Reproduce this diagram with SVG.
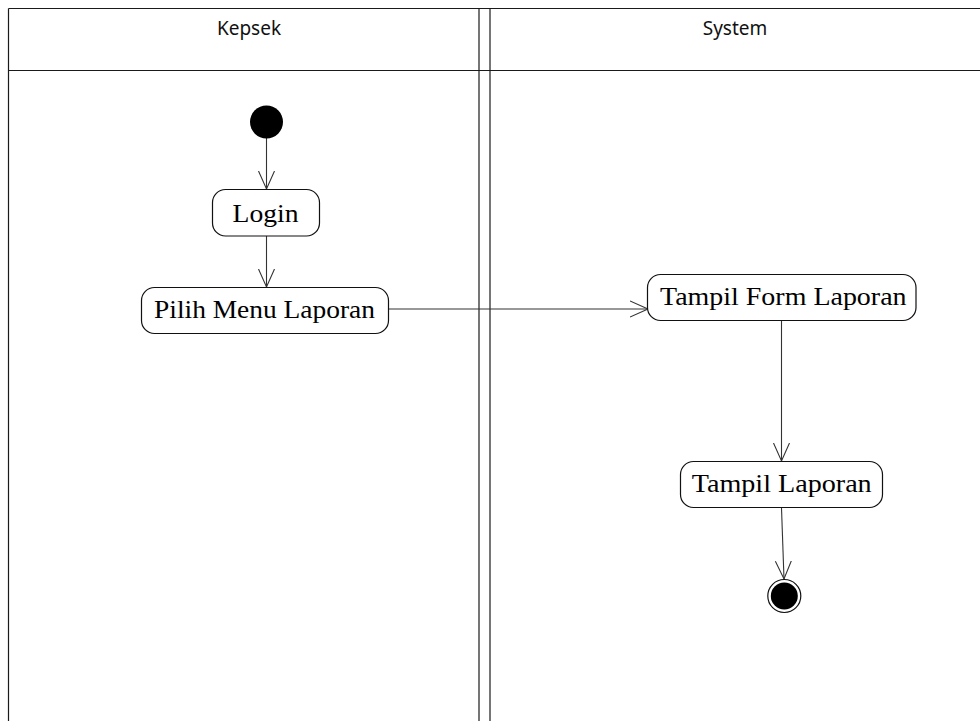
<svg xmlns="http://www.w3.org/2000/svg" width="980" height="721" viewBox="0 0 980 721">
  <style>
    .lane { fill: none; stroke: #1a1a1a; stroke-width: 1.2; }
    .head { font-family: "Noto Sans", "Open Sans", sans-serif; font-size: 19px; fill: #111; text-anchor: middle; }
    .act rect { fill: #fff; stroke: #111; stroke-width: 1.2; }
    .act text { font-family: "Liberation Serif", "Times New Roman", serif; font-size: 26px; fill: #000; text-anchor: middle; }
    .flow line { stroke: #333; stroke-width: 1.1; fill: none; marker-end: url(#open); }
  </style>
  <defs>
    <marker id="open" viewBox="0 0 20 20" refX="18" refY="10" markerWidth="20" markerHeight="20" markerUnits="userSpaceOnUse" orient="auto">
      <path d="M0,2 L18,10 L0,18" fill="none" stroke="#333" stroke-width="1.1"/>
    </marker>
  </defs>

  <rect width="980" height="721" fill="#fff"/>

  <!-- swimlanes -->
  <g id="swimlanes">
    <line class="lane" x1="8.5" y1="8.5" x2="980" y2="8.5"/>
    <line class="lane" x1="8.5" y1="70.5" x2="980" y2="70.5"/>
    <line class="lane" x1="8.5" y1="8.5" x2="8.5" y2="721"/>
    <line class="lane" x1="479" y1="8.5" x2="479" y2="721"/>
    <line class="lane" x1="490" y1="8.5" x2="490" y2="721"/>
    <text class="head" x="249" y="35">Kepsek</text>
    <text class="head" x="735" y="35">System</text>
  </g>

  <!-- connectors -->
  <g id="connectors" class="flow">
    <line x1="266.5" y1="138" x2="266.5" y2="189"/>
    <line x1="266.5" y1="236" x2="266.5" y2="287"/>
    <line x1="388.5" y1="309" x2="648" y2="309"/>
    <line x1="781.5" y1="321" x2="781.5" y2="461"/>
    <line x1="781.5" y1="508" x2="784" y2="579"/>
  </g>

  <!-- start -->
  <g id="start">
    <circle cx="266.5" cy="122" r="16.5" fill="#000"/>
  </g>

  <g id="login" class="act">
    <rect x="212.5" y="189.5" width="107" height="46.5" rx="13"/>
    <text x="265.5" y="221.5" textLength="66" lengthAdjust="spacingAndGlyphs">Login</text>
  </g>

  <g id="pilih-menu-laporan" class="act">
    <rect x="141.5" y="287.5" width="247" height="46" rx="13"/>
    <text x="264.5" y="317.5" textLength="221" lengthAdjust="spacingAndGlyphs">Pilih Menu Laporan</text>
  </g>

  <g id="tampil-form-laporan" class="act">
    <rect x="647.5" y="274.5" width="268.5" height="46" rx="13"/>
    <text x="783.3" y="304.5" textLength="246.5" lengthAdjust="spacingAndGlyphs">Tampil Form Laporan</text>
  </g>

  <g id="tampil-laporan" class="act">
    <rect x="680.5" y="461.5" width="202" height="46" rx="13"/>
    <text x="781.7" y="491.5" textLength="180" lengthAdjust="spacingAndGlyphs">Tampil Laporan</text>
  </g>

  <!-- end -->
  <g id="end">
    <circle cx="784.3" cy="596" r="16.5" fill="#fff" stroke="#111" stroke-width="1.2"/>
    <circle cx="784.3" cy="596" r="13.5" fill="#000"/>
  </g>
</svg>
